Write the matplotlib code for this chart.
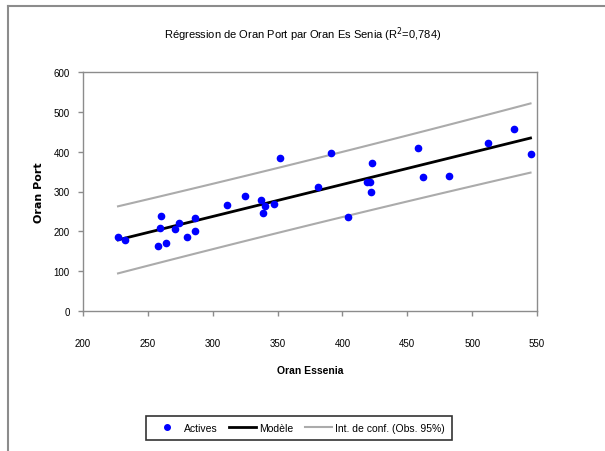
import numpy as np
import matplotlib
matplotlib.use("Agg")
import matplotlib.pyplot as plt
from matplotlib.lines import Line2D

# data
oran_essenia = [227, 232, 258, 259, 260, 264, 271, 274, 280, 286, 286,
                311, 325, 337, 339, 340, 347, 352, 381, 391, 404, 419,
                421, 422, 423, 458, 462, 482, 512, 532, 545]
oran_port = [187, 178, 162, 208, 238, 170, 206, 221, 185, 233, 200,
             267, 289, 279, 247, 264, 268, 383, 311, 396, 236, 323,
             323, 298, 371, 409, 337, 340, 423, 457, 394]
x_ticks = [200, 250, 300, 350, 400, 450, 500, 550]
y_ticks = [0, 100, 200, 300, 400, 500, 600]
t_95 = 2.045  # student t, 29 dof

narrow = ["Liberation Sans", "DejaVu Sans"]

x = np.array(oran_essenia, dtype=float)
y = np.array(oran_port, dtype=float)
n = len(x)
slope, intercept = np.polyfit(x, y, 1)
resid = y - (slope * x + intercept)
s = np.sqrt(np.sum(resid ** 2) / (n - 2))
xs = np.linspace(x.min(), x.max(), 60)
fit = slope * xs + intercept
half = t_95 * s * np.sqrt(1 + 1 / n + (xs - x.mean()) ** 2 / np.sum((x - x.mean()) ** 2))

fig = plt.figure(figsize=(6.05, 4.52), dpi=100)
ax = fig.add_axes([83 / 605, 1 - 312 / 452, 454 / 605, 239 / 452])

ax.plot(xs, fit + half, color="#ababab", lw=1.5, zorder=2)
ax.plot(xs, fit - half, color="#ababab", lw=1.5, zorder=2)
ax.plot(xs, fit, color="black", lw=2, zorder=3)
ax.plot(x, y, "o", color="#0000ff", ms=4.5, zorder=4)

ax.set_xlim(200, 550)
ax.set_ylim(0, 600)
ax.set_xticks(x_ticks)
ax.set_yticks(y_ticks)
for sp in ax.spines.values():
    sp.set_color("#8c8c8c")
    sp.set_linewidth(1)
ax.tick_params(colors="#8c8c8c", length=3.5, width=1)
ax.tick_params(axis="x", pad=16)
ax.tick_params(axis="y", pad=6)
for lab in ax.get_xticklabels() + ax.get_yticklabels():
    lab.set_family(narrow)
    lab.set_fontsize(7)
    lab.set_color("black")

ax.set_xlabel("Oran Essenia", family=narrow, fontsize=7.5, fontweight="bold", labelpad=12)
ax.set_ylabel("Oran Port", family="DejaVu Sans", fontsize=8, fontweight="bold", labelpad=7)

fig.text(0.5, 1 - 35 / 452, "Régression de Oran Port par Oran Es Senia (R$^2$=0,784)",
         ha="center", va="center", family=narrow, fontsize=8)

handles = [
    Line2D([], [], ls="none", marker="o", color="#0000ff", ms=4),
    Line2D([], [], color="black", lw=2),
    Line2D([], [], color="#ababab", lw=1.5),
]
leg = fig.legend(handles, ["Actives", "Modèle", "Int. de conf. (Obs. 95%)"],
                 loc="center", bbox_to_anchor=(299 / 605, 1 - 429 / 452), ncol=3,
                 prop={"family": narrow, "size": 7.5}, frameon=True, fancybox=False,
                 edgecolor="black", handlelength=2.6, handletextpad=0.3,
                 columnspacing=1.1, borderpad=0.7, borderaxespad=0)
leg.get_frame().set_linewidth(1.2)

# outer chart border (only top and left show in the crop)
fig.add_artist(Line2D([8 / 605, 8 / 605], [0, 1 - 7 / 452], color="#8c8c8c", lw=1.5,
                      transform=fig.transFigure))
fig.add_artist(Line2D([8 / 605, 1], [1 - 7 / 452, 1 - 7 / 452], color="#8c8c8c", lw=1.5,
                      transform=fig.transFigure))

fig.savefig("out.png", dpi=100)
